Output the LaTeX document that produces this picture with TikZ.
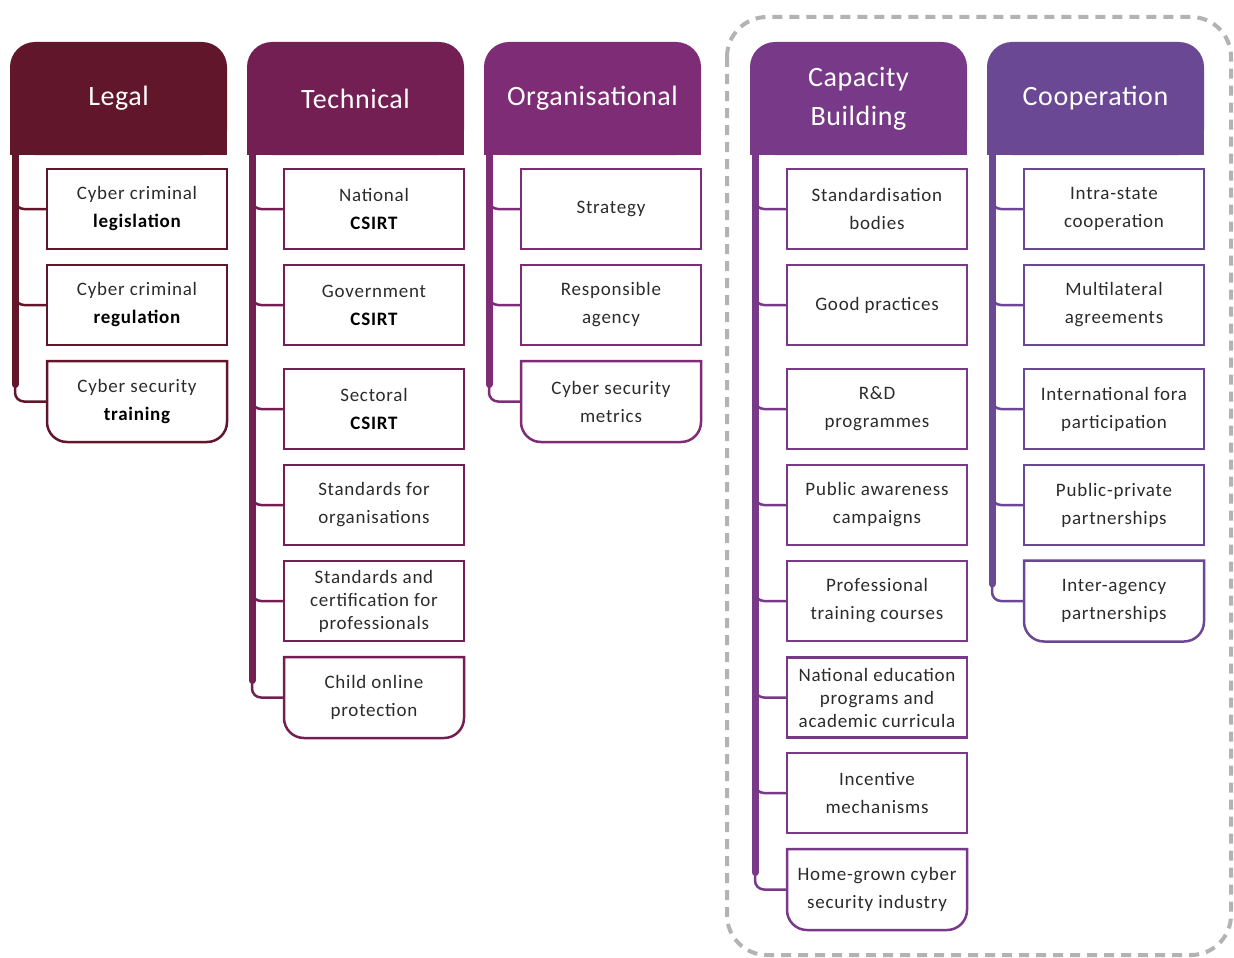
\documentclass[tikz,border=0pt]{standalone}
\usepackage{fontspec}
\setmainfont{Carlito}
\newfontfamily\boxfont[LetterSpace=4]{Carlito}
\newfontfamily\hdrfont[LetterSpace=2]{Carlito}
\usetikzlibrary{backgrounds}
\definecolor{cA}{HTML}{62162B}
\definecolor{cB}{HTML}{741F53}
\definecolor{cC}{HTML}{7E2C76}
\definecolor{cD}{HTML}{783A88}
\definecolor{cE}{HTML}{6B4893}
\definecolor{txt}{HTML}{2B2B2B}
\definecolor{framegray}{HTML}{B3B3B3}
\tikzset{
  hdr/.style={fill=#1, minimum width=217pt, minimum height=113pt, inner sep=0pt, outer sep=0pt,
    text=white, align=center, rounded corners=25pt, font=\hdrfont\fontsize{28}{39}\selectfont},
  bx/.style={draw=#1, line width=2.5pt, minimum width=180pt, minimum height=80pt, inner sep=0pt,
    outer sep=0pt, align=center, text=txt, font=\boxfont\fontsize{19}{28}\selectfont},
  lastbx/.style={draw=none, minimum width=180pt, minimum height=81pt, inner sep=0pt,
    outer sep=0pt, align=center, text=txt, font=\boxfont\fontsize{19}{28}\selectfont},
  three/.style={font=\boxfont\fontsize{19}{23}\selectfont},
  bar/.style={draw=#1, line width=7pt, line cap=round},
  conn/.style={draw=#1, line width=2.5pt, rounded corners=9pt},
  rbline/.style={draw=#1, line width=2.5pt},
  frame/.style={draw=framegray, line width=4pt, dash pattern=on 10pt off 7pt, rounded corners=40pt},
}
\newcommand\rbot[2]{\draw[rbline=#2] (#1.north west) -- ([yshift=20pt]#1.south west)
  arc[start angle=180,end angle=270,radius=20pt] -- ([xshift=-20pt]#1.south east)
  arc[start angle=270,end angle=360,radius=20pt] -- (#1.north east) -- cycle;}
\newcommand\bw[1]{\textbf{\color{black}#1}}
\newcommand\link[3]{\draw[conn=#3] (#2.west) -- (#1 |- #2.west) -- ([yshift=16pt]#1 |- #2.west);}
\begin{document}
\begin{tikzpicture}[x=1pt,y=-1pt]
\useasboundingbox (0,0) rectangle (1234,958);

% frame
\draw[frame] (727,17) rectangle (1231,955);

% headers
\node[hdr=cA] (hA) at (118.5,98.5) {Legal};
\node[hdr=cB] (hB) at (355.5,98.5) {Technical};
\node[hdr=cC] (hC) at (592.5,98.5) {Organisational};
\node[hdr=cD] (hD) at (858.5,98.5) {Capacity\\Building};
\node[hdr=cE] (hE) at (1095.5,98.5) {Cooperation};
\begin{scope}[on background layer]
  \foreach \h/\c in {hA/cA,hB/cB,hC/cC,hD/cD,hE/cE}
    \fill[\c] (\h.south west) rectangle (\h.east);
\end{scope}

% bar tops
\coordinate (LA) at (15,150);
\coordinate (LB) at (252,150);
\coordinate (LC) at (489,150);
\coordinate (LD) at (755,150);
\coordinate (LE) at (992,150);

% Legal
\node[bx=cA] (A1) at (137,209) {Cyber criminal\\\bw{legislation}};
\node[bx=cA] (A2) at (137,305) {Cyber criminal\\\bw{regulation}};
\node[lastbx] (A3) at (137,401.5) {Cyber security\\\bw{training}};
\rbot{A3}{cA}

% Technical
\node[bx=cB] (B1) at (374,209) {National\\\bw{CSIRT}};
\node[bx=cB] (B2) at (374,305) {Government\\\bw{CSIRT}};
\node[bx=cB] (B3) at (374,409) {Sectoral\\\bw{CSIRT}};
\node[bx=cB] (B4) at (374,505) {Standards for\\organisations};
\node[bx=cB, three] (B5) at (374,601) {Standards and\\certification for\\professionals};
\node[lastbx] (B6) at (374,697.5) {Child online\\protection};
\rbot{B6}{cB}

% Organisational
\node[bx=cC] (C1) at (611,209) {Strategy};
\node[bx=cC] (C2) at (611,305) {Responsible\\agency};
\node[lastbx] (C3) at (611,401.5) {Cyber security\\metrics};
\rbot{C3}{cC}

% Capacity Building
\node[bx=cD] (D1) at (877,209) {Standardisation\\bodies};
\node[bx=cD] (D2) at (877,305) {Good practices};
\node[bx=cD] (D3) at (877,409) {R\&D\\programmes};
\node[bx=cD] (D4) at (877,505) {Public awareness\\campaigns};
\node[bx=cD] (D5) at (877,601) {Professional\\training courses};
\node[bx=cD, three] (D6) at (877,697.5) {National education\\programs and\\academic curricula};
\node[bx=cD] (D7) at (877,793) {Incentive\\mechanisms};
\node[lastbx] (D8) at (877,889.5) {Home-grown cyber\\security industry};
\rbot{D8}{cD}

% Cooperation
\node[bx=cE] (E1) at (1114,209) {Intra-state\\cooperation};
\node[bx=cE] (E2) at (1114,305) {Multilateral\\agreements};
\node[bx=cE] (E3) at (1114,409) {International fora\\participation};
\node[bx=cE] (E4) at (1114,505) {Public-private\\partnerships};
\node[lastbx] (E5) at (1114,601) {Inter-agency\\partnerships};
\rbot{E5}{cE}

% bars
\draw[bar=cA] (LA) -- ([yshift=17pt]LA |- A3.west);
\draw[bar=cB] (LB) -- ([yshift=17pt]LB |- B6.west);
\draw[bar=cC] (LC) -- ([yshift=17pt]LC |- C3.west);
\draw[bar=cD] (LD) -- ([yshift=17pt]LD |- D8.west);
\draw[bar=cE] (LE) -- ([yshift=17pt]LE |- E5.west);

% connectors
\foreach \n in {A1,A2,A3} {\link{LA}{\n}{cA}}
\foreach \n in {B1,B2,B3,B4,B5,B6} {\link{LB}{\n}{cB}}
\foreach \n in {C1,C2,C3} {\link{LC}{\n}{cC}}
\foreach \n in {D1,D2,D3,D4,D5,D6,D7,D8} {\link{LD}{\n}{cD}}
\foreach \n in {E1,E2,E3,E4,E5} {\link{LE}{\n}{cE}}
\end{tikzpicture}
\end{document}
